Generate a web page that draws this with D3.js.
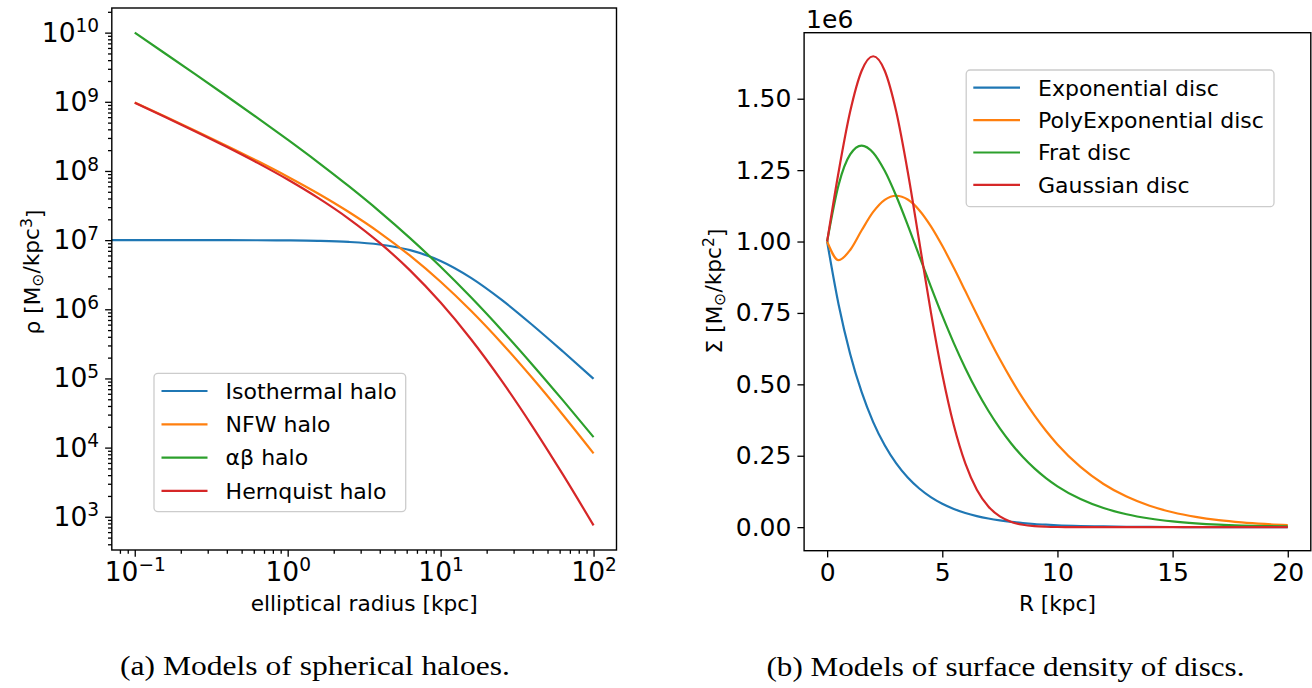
<!DOCTYPE html>
<html>
<head>
<meta charset="utf-8">
<script src="https://cdn.jsdelivr.net/npm/d3@7"></script>
<style>
body { margin: 0; background: #ffffff; }
text { font-family: "DejaVu Sans", sans-serif; fill: #000000; }
.caption { font-family: "Liberation Serif", "DejaVu Serif", serif; }
</style>
</head>
<body>
<svg id="figure" width="1312" height="688"></svg>
<script>
// HALO DATA : elliptical radius [kpc] and density [Msun/kpc^3]
var haloRadius = [0.1, 0.158, 0.251, 0.398, 0.631, 1, 1.58, 2.51, 3.98, 6.31, 10, 15.8, 25.1, 39.8, 63.1, 100];
// the isothermal curve runs on to the left edge of the axes
var isothermalRadius = [0.05, 0.1, 0.158, 0.251, 0.398, 0.631, 1, 1.58, 2.51, 3.98, 6.31, 10, 15.8, 25.1, 39.8, 63.1, 100];
var isothermalRho = [1.0e7, 9.999e6, 9.997e6, 9.994e6, 9.984e6, 9.96e6, 9.90e6, 9.755e6, 9.406e6, 8.635e6, 7.153e6, 5.0e6, 2.849e6, 1.368e6, 5.93e5, 2.45e5, 9.9e4];
var nfwRho = [9.803e8, 6.134e8, 3.791e8, 2.324e8, 1.402e8, 8.264e7, 4.720e7, 2.546e7, 1.286e7, 5.957e6, 2.5e6, 9.51e5, 3.234e5, 1.013e5, 2.966e4, 8.264e3];
var alphaBetaRho = [1.0e10, 4.998e9, 2.467e9, 1.213e9, 5.903e8, 2.830e8, 1.333e8, 6.018e7, 2.609e7, 1.070e7, 4.114e6, 1.488e6, 4.979e5, 1.582e5, 4.814e4, 1.418e4];
var hernquistRho = [9.706e8, 6.038e8, 3.699e8, 2.235e8, 1.319e8, 7.513e7, 4.076e7, 2.035e7, 9.196e6, 3.653e6, 1.25e6, 3.686e5, 9.214e4, 2.034e4, 4.057e3, 751];
var haloNames = ["Isothermal halo", "NFW halo", "αβ halo", "Hernquist halo"];
var haloXTicks = [0.1, 1, 10, 100];
var haloYTicks = [1e3, 1e4, 1e5, 1e6, 1e7, 1e8, 1e9, 1e10];

// DISC DATA : R [kpc] and surface density [1e6 Msun/kpc^2]
var discRadius = [0, 0.5, 1, 1.5, 2, 2.5, 3, 3.5, 4, 4.5, 5, 5.5, 6, 6.5, 7, 7.5, 8, 8.5, 9, 9.5, 10, 11, 12, 13, 14, 15, 16, 17, 18, 19, 20];
var exponentialSigma = [1, 0.7788, 0.6065, 0.4724, 0.3679, 0.2865, 0.2231, 0.1738, 0.1353, 0.1054, 0.0821, 0.0639, 0.0498, 0.0388, 0.0302, 0.0235, 0.0183, 0.0143, 0.0111, 0.0087, 0.0067, 0.0041, 0.0025, 0.0015, 0.0009, 0.0006, 0.0003, 0.0002, 0.0001, 0.0001, 0.0];
var polyExponentialSigma = [1, 0.9346, 0.9704, 1.0393, 1.1036, 1.1460, 1.1602, 1.1470, 1.1098, 1.0540, 0.9850, 0.9078, 0.8265, 0.7444, 0.6644, 0.5880, 0.5166, 0.4506, 0.3911, 0.3374, 0.2897, 0.2109, 0.1512, 0.1070, 0.0750, 0.0520, 0.0358, 0.0244, 0.0166, 0.0112, 0.0075];
var fratSigma = [1, 1.1990, 1.3051, 1.3361, 1.3112, 1.2476, 1.1593, 1.0577, 0.9500, 0.8432, 0.7404, 0.6445, 0.5567, 0.4775, 0.4074, 0.3457, 0.2920, 0.2455, 0.2058, 0.1718, 0.1430, 0.0983, 0.0669, 0.0452, 0.0303, 0.0202, 0.0134, 0.0088, 0.0058, 0.0038, 0.0025];
var gaussianSigma = [1, 1.2445, 1.4550, 1.5980, 1.6487, 1.5980, 1.4550, 1.2445, 1.0000, 0.7548, 0.5353, 0.3566, 0.2231, 0.1312, 0.0724, 0.0376, 0.0183, 0.0084, 0.0036, 0.0015, 0.0006, 0.0001, 0, 0, 0, 0, 0, 0, 0, 0, 0];
var discNames = ["Exponential disc", "PolyExponential disc", "Frat disc", "Gaussian disc"];
var discXTicks = [0, 5, 10, 15, 20];
var discYTicks = [0, 0.25, 0.5, 0.75, 1.0, 1.25, 1.5];

var colors = ["#1f77b4", "#ff7f0e", "#2ca02c", "#d62728"];

// SIZES
var tickFontA = 26.5;
var tickFontB = 25;
var labelFont = 21.7;
var legendFont = 22;
var majorTick = 6.7;
var minorTick = 3.8;
var lineWidth = 2.2;
var frameWidth = 1.4;

var panelA = {left: 111.8, right: 616.5, top: 8, bottom: 550};
var panelB = {left: 804.1, right: 1310.8, top: 32.7, bottom: 550.7};

var svg = d3.select("#figure");

// matplotlib style 5% margins
function padLinear(values) {
	var e = d3.extent(values);
	var m = (e[1] - e[0]) * 0.05;
	return [e[0] - m, e[1] + m];
}
function padLog(values) {
	var e = d3.extent(values).map(Math.log10);
	var m = (e[1] - e[0]) * 0.05;
	return [Math.pow(10, e[0] - m), Math.pow(10, e[1] + m)];
}

function powerLabel(selection) {
	selection.each(function(d) {
		var p = Math.round(Math.log10(d));
		var t = d3.select(this).text("");
		t.append("tspan").text("10");
		t.append("tspan")
			.attr("dy", "-0.5em")
			.attr("font-size", "0.7em")
			.text(String(p).replace("-", "\u2212"));
	});
}

function styleAxis(size) {
	return function(g) {
		g.select(".domain").remove();
		g.selectAll("line").attr("stroke", "#000").attr("stroke-width", 1.3);
		g.selectAll("text").attr("font-family", "DejaVu Sans").attr("font-size", size).attr("fill", "#000");
	};
}

// =================== PANEL A : HALOES ===================
var xA = d3.scaleLog().domain(padLog(haloRadius)).range([panelA.left, panelA.right]);
var allRho = isothermalRho.slice(1).concat(nfwRho, alphaBetaRho, hernquistRho);
var yA = d3.scaleLog().domain(padLog(allRho)).range([panelA.bottom, panelA.top]);

svg.append("clipPath").attr("id", "clipA")
	.append("rect")
	.attr("x", panelA.left).attr("y", panelA.top)
	.attr("width", panelA.right - panelA.left).attr("height", panelA.bottom - panelA.top);

var minorXA = xA.ticks().filter(function(d) { return haloXTicks.indexOf(d) < 0; });
var minorYA = yA.ticks().filter(function(d) { return haloYTicks.indexOf(d) < 0; });

svg.append("g")
	.attr("transform", "translate(0," + panelA.bottom + ")")
	.call(d3.axisBottom(xA).tickValues(minorXA).tickSize(minorTick).tickFormat(""))
	.call(styleAxis(tickFontA));
var xAxisA = svg.append("g")
	.attr("transform", "translate(0," + panelA.bottom + ")")
	.call(d3.axisBottom(xA).tickValues(haloXTicks).tickSize(majorTick).tickPadding(5))
	.call(styleAxis(tickFontA));
xAxisA.selectAll(".tick text").call(powerLabel);

svg.append("g")
	.attr("transform", "translate(" + panelA.left + ",0)")
	.call(d3.axisLeft(yA).tickValues(minorYA).tickSize(minorTick).tickFormat(""))
	.call(styleAxis(tickFontA));
var yAxisA = svg.append("g")
	.attr("transform", "translate(" + panelA.left + ",0)")
	.call(d3.axisLeft(yA).tickValues(haloYTicks).tickSize(majorTick).tickPadding(6))
	.call(styleAxis(tickFontA));
yAxisA.selectAll(".tick text").call(powerLabel);

var lineA = d3.line()
	.curve(d3.curveMonotoneX)
	.x(function(d) { return xA(d[0]); })
	.y(function(d) { return yA(d[1]); });

var haloSeries = [
	d3.zip(isothermalRadius, isothermalRho),
	d3.zip(haloRadius, nfwRho),
	d3.zip(haloRadius, alphaBetaRho),
	d3.zip(haloRadius, hernquistRho)
];

svg.append("g").attr("clip-path", "url(#clipA)")
	.selectAll("path")
	.data(haloSeries)
	.enter()
	.append("path")
	.attr("d", lineA)
	.attr("fill", "none")
	.attr("stroke", function(d, i) { return colors[i]; })
	.attr("stroke-width", lineWidth);

svg.append("rect")
	.attr("x", panelA.left).attr("y", panelA.top)
	.attr("width", panelA.right - panelA.left).attr("height", panelA.bottom - panelA.top)
	.attr("fill", "none").attr("stroke", "#000").attr("stroke-width", frameWidth);

svg.append("text")
	.attr("x", (panelA.left + panelA.right) / 2)
	.attr("y", 611)
	.attr("text-anchor", "middle")
	.attr("font-size", labelFont)
	.text("elliptical radius [kpc]");

var ylabA = svg.append("text")
	.attr("transform", "translate(40,272) rotate(-90)")
	.attr("text-anchor", "middle")
	.attr("font-size", labelFont);
ylabA.append("tspan").text("ρ [M");
ylabA.append("tspan").attr("dy", "0.2em").attr("font-size", "0.72em").text("⊙");
ylabA.append("tspan").attr("dy", "-0.2em").text("/kpc");
ylabA.append("tspan").attr("dy", "-0.45em").attr("font-size", "0.72em").text("3");
ylabA.append("tspan").attr("dy", "0.45em").text("]");

// LEGEND A
drawLegend(haloNames, {x: 154, y: 373.3, w: 251.7, h: 138.4, lineX: 161.5, lineW: 46, textX: 225.6, firstRow: 391, rowStep: 33.3});

// =================== PANEL B : DISCS ===================
var xB = d3.scaleLinear().domain(padLinear(discRadius)).range([panelB.left, panelB.right]);
var allSigma = exponentialSigma.concat(polyExponentialSigma, fratSigma, gaussianSigma);
var yB = d3.scaleLinear().domain(padLinear(allSigma)).range([panelB.bottom, panelB.top]);

svg.append("clipPath").attr("id", "clipB")
	.append("rect")
	.attr("x", panelB.left).attr("y", panelB.top)
	.attr("width", panelB.right - panelB.left).attr("height", panelB.bottom - panelB.top);

svg.append("g")
	.attr("transform", "translate(0," + panelB.bottom + ")")
	.call(d3.axisBottom(xB).tickValues(discXTicks).tickSize(majorTick).tickPadding(6).tickFormat(d3.format("d")))
	.call(styleAxis(tickFontB));

svg.append("g")
	.attr("transform", "translate(" + panelB.left + ",0)")
	.call(d3.axisLeft(yB).tickValues(discYTicks).tickSize(majorTick).tickPadding(6).tickFormat(d3.format(".2f")))
	.call(styleAxis(tickFontB));

var lineB = d3.line()
	.curve(d3.curveMonotoneX)
	.x(function(d) { return xB(d[0]); })
	.y(function(d) { return yB(d[1]); });

var discSeries = [
	d3.zip(discRadius, exponentialSigma),
	d3.zip(discRadius, polyExponentialSigma),
	d3.zip(discRadius, fratSigma),
	d3.zip(discRadius, gaussianSigma)
];

svg.append("g").attr("clip-path", "url(#clipB)")
	.selectAll("path")
	.data(discSeries)
	.enter()
	.append("path")
	.attr("d", lineB)
	.attr("fill", "none")
	.attr("stroke", function(d, i) { return colors[i]; })
	.attr("stroke-width", lineWidth);

svg.append("rect")
	.attr("x", panelB.left).attr("y", panelB.top)
	.attr("width", panelB.right - panelB.left).attr("height", panelB.bottom - panelB.top)
	.attr("fill", "none").attr("stroke", "#000").attr("stroke-width", frameWidth);

// OFFSET TEXT
svg.append("text")
	.attr("x", panelB.left + 2)
	.attr("y", 28)
	.attr("font-size", tickFontB)
	.text("1e6");

svg.append("text")
	.attr("x", (panelB.left + panelB.right) / 2)
	.attr("y", 611)
	.attr("text-anchor", "middle")
	.attr("font-size", labelFont)
	.text("R [kpc]");

var ylabB = svg.append("text")
	.attr("transform", "translate(722,291) rotate(-90)")
	.attr("text-anchor", "middle")
	.attr("font-size", labelFont);
ylabB.append("tspan").text("Σ [M");
ylabB.append("tspan").attr("dy", "0.2em").attr("font-size", "0.72em").text("⊙");
ylabB.append("tspan").attr("dy", "-0.2em").text("/kpc");
ylabB.append("tspan").attr("dy", "-0.45em").attr("font-size", "0.72em").text("2");
ylabB.append("tspan").attr("dy", "0.45em").text("]");

// LEGEND B
drawLegend(discNames, {x: 966.2, y: 70, w: 307.8, h: 136.7, lineX: 973.3, lineW: 46.7, textX: 1038, firstRow: 87.7, rowStep: 32.4});

// CAPTIONS
svg.append("text")
	.attr("class", "caption")
	.attr("x", 120).attr("y", 675)
	.attr("font-size", 27)
	.attr("textLength", 390).attr("lengthAdjust", "spacingAndGlyphs")
	.text("(a) Models of spherical haloes.");

svg.append("text")
	.attr("class", "caption")
	.attr("x", 766.5).attr("y", 676)
	.attr("font-size", 27)
	.attr("textLength", 478).attr("lengthAdjust", "spacingAndGlyphs")
	.text("(b) Models of surface density of discs.");

function drawLegend(names, box) {
	var g = svg.append("g");
	g.append("rect")
		.attr("x", box.x).attr("y", box.y)
		.attr("width", box.w).attr("height", box.h)
		.attr("rx", 4)
		.attr("fill", "#ffffff").attr("fill-opacity", 0.8)
		.attr("stroke", "#cccccc").attr("stroke-width", 1.3);
	var row = g.selectAll(".entry")
		.data(names)
		.enter()
		.append("g")
		.attr("class", "entry")
		.attr("transform", function(d, i) { return "translate(0," + (box.firstRow + i * box.rowStep) + ")"; });
	row.append("line")
		.attr("x1", box.lineX).attr("x2", box.lineX + box.lineW)
		.attr("stroke", function(d, i) { return colors[i]; })
		.attr("stroke-width", lineWidth);
	row.append("text")
		.attr("x", box.textX)
		.attr("y", 7.8)
		.attr("font-size", legendFont)
		.text(function(d) { return d; });
}
</script>
</body>
</html>
